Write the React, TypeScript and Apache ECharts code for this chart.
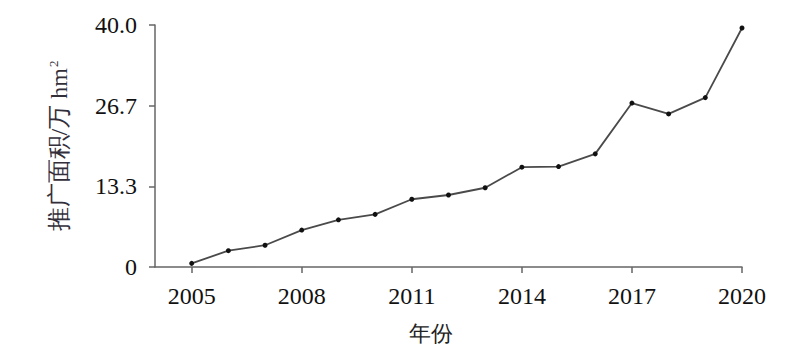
import React, { useEffect, useRef } from "react";
import * as echarts from "echarts";

const years = [2005, 2006, 2007, 2008, 2009, 2010, 2011, 2012, 2013, 2014, 2015, 2016, 2017, 2018, 2019, 2020];
const area = [0.6, 2.7, 3.6, 6.1, 7.8, 8.7, 11.2, 11.9, 13.1, 16.5, 16.6, 18.7, 27.1, 25.3, 28.0, 39.5];
const xTicks = [2005, 2008, 2011, 2014, 2017, 2020];
const yTicks = [0, 40 / 3, 80 / 3, 40];
const yTickLabels = ["0", "13.3", "26.7", "40.0"];

const FONT = "Liberation Serif";

export default function App() {
  const ref = useRef<HTMLDivElement>(null);
  useEffect(() => {
    const chart = echarts.init(ref.current!, null, { renderer: "svg" });
    chart.setOption({
      animation: false,
      textStyle: { fontFamily: FONT },
      grid: { left: 155, right: 56, top: 25, bottom: 90 },
      xAxis: {
        type: "value",
        min: 2004,
        max: 2020,
        name: "年份",
        nameLocation: "middle",
        nameGap: 55,
        nameTextStyle: { fontFamily: FONT, fontSize: 22, color: "#222", padding: [0, 36, 0, 0] },
        axisLine: { show: true, lineStyle: { color: "#666", width: 1.5 } },
        axisTick: { show: true, length: 6, lineStyle: { color: "#666", width: 1.5 }, customValues: xTicks },
        axisLabel: {
          customValues: xTicks,
          margin: 17,
          fontFamily: FONT,
          fontSize: 24,
          color: "#111",
          formatter: (v: number) => String(v),
        },
        splitLine: { show: false },
      },
      yAxis: {
        type: "value",
        min: 0,
        max: 40,
        name: "推广面积/万 hm{sup|2}",
        nameLocation: "middle",
        nameGap: 84,
        nameRotate: 90,
        nameTextStyle: {
          fontFamily: FONT,
          fontSize: 24,
          color: "#332f3a",
          rich: {
            sup: { fontFamily: FONT, fontSize: 13, color: "#332f3a", verticalAlign: "top", padding: [0, 0, 10, 1] },
          },
        },
        axisLine: { show: true, lineStyle: { color: "#666", width: 1.5 } },
        axisTick: { show: true, length: 6, lineStyle: { color: "#666", width: 1.5 }, customValues: yTicks },
        axisLabel: {
          customValues: yTicks,
          margin: 18,
          fontFamily: FONT,
          fontSize: 24,
          color: "#111",
          formatter: (v: number) => {
            const i = yTicks.findIndex((t) => Math.abs(t - v) < 1e-6);
            return i >= 0 ? yTickLabels[i] : "";
          },
        },
        splitLine: { show: false },
      },
      series: [
        {
          type: "line",
          data: years.map((y, i) => [y, area[i]]),
          lineStyle: { color: "#4a4a4a", width: 1.8 },
          itemStyle: { color: "#111" },
          symbol: "circle",
          symbolSize: 5,
        },
      ],
    });
    return () => chart.dispose();
  }, []);
  return <div ref={ref} style={{ width: 798, height: 357, position: "absolute", left: 0, top: 0 }} />;
}
